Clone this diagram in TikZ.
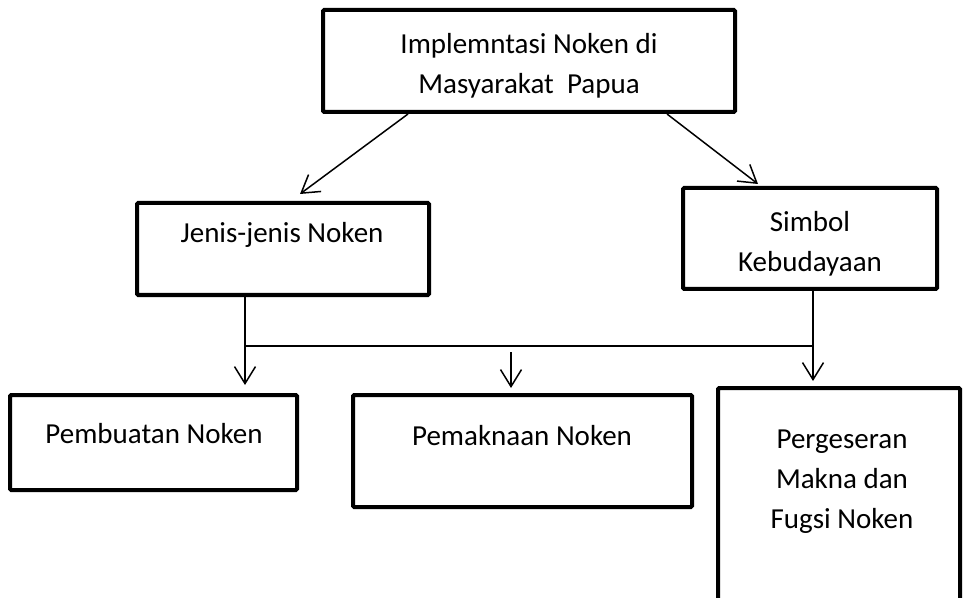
\documentclass[tikz,border=0pt]{standalone}
\usepackage{fontspec}
\setmainfont{Carlito}
\usetikzlibrary{arrows.meta}
\begin{document}
\begin{tikzpicture}[x=0.5pt,y=-0.5pt,
  box/.style={draw, line width=2pt, rounded corners=0.6pt, rectangle, inner sep=0pt},
  lbl/.style={font=\fontsize{14.5}{20}\selectfont, align=center, inner sep=0pt},
  conn/.style={line width=0.75pt},
  arr/.style={conn, -{Straight Barb[length=8.5pt,width=10.5pt,line width=0.75pt]}}]
\useasboundingbox (0,0) rectangle (967,598);
% boxes
\node[box, minimum width=206pt, minimum height=51pt] (top) at (529,61) {};
\node[box, minimum width=146pt, minimum height=46pt] (jenis) at (283,249) {};
\node[box, minimum width=127pt, minimum height=50.5pt] (simbol) at (810,238.5) {};
\node[box, minimum width=143.5pt, minimum height=47.5pt] (pembuatan) at (153.5,442.5) {};
\node[box, minimum width=169.5pt, minimum height=56pt] (pemaknaan) at (522.5,451) {};
\node[box, minimum width=121pt, minimum height=108pt] (pergeseran) at (839,496) {};
% texts
\node[lbl] (toptxt) at (529,65.5) {Implemntasi Noken di\\Masyarakat\ \ Papua};
\node[lbl, anchor=base] (jenistxt) at (282,243) {Jenis-jenis Noken};
\node[lbl] (simboltxt) at (810,243.5) {Simbol\\Kebudayaan};
\node[lbl, anchor=base] (pembuatantxt) at (154,443) {Pembuatan Noken};
\node[lbl, anchor=base] (pemaknaantxt) at (522,445) {Pemaknaan Noken};
\node[lbl] (pergeserantxt) at (842,482) {Pergeseran\\Makna dan\\Fugsi Noken};
% connectors
\coordinate (t1) at (300,194);
\coordinate (t2) at (758,184);
\draw[arr] ([xshift=-60.5pt]top.south) -- (t1);
\draw[arr] ([xshift=69pt]top.south) -- (t2);
\coordinate (jL) at (245,346);
\coordinate (jR) at (813,346);
\coordinate (m0) at (511,352);
\draw[conn] ([xshift=-19pt]jenis.south) -- (jL) -- (jR);
\draw[conn] ([xshift=1.5pt]simbol.south) -- (jR);
\draw[arr] (jL) -- ([yshift=4pt]pembuatan.north -| jL);
\draw[arr] (m0) -- ([yshift=2.5pt]pemaknaan.north -| m0);
\draw[arr] (jR) -- ([yshift=2.5pt]pergeseran.north -| jR);
\end{tikzpicture}
\end{document}
